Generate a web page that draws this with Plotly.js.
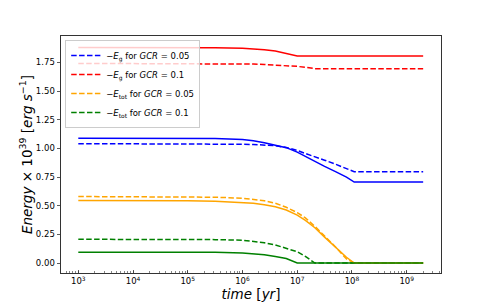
<!DOCTYPE html>
<html>
<head>
<meta charset="utf-8">
<script src="https://cdn.plot.ly/plotly-3.0.1.min.js"></script>
<style>html,body{margin:0;padding:0;background:#fff;}#chart{width:491px;height:307px;}</style>
</head>
<body>
<div id="chart"></div>
<script>
// time grid [yr]
const time = [1e3, 1e4, 1e5, 3.16e5, 1e6, 1.58e6, 2.51e6, 3.98e6, 6.31e6, 1e7, 1.41e7, 2.1e7, 3.16e7, 5.01e7, 7.94e7, 1.1e8, 3.16e8, 1e9, 2e9];

// energies (x 10^39 erg/s)
const egBlueSolid  = [1.088, 1.088, 1.087, 1.085, 1.078, 1.067, 1.049, 1.030, 1.006, 0.967, 0.928, 0.882, 0.843, 0.797, 0.749, 0.706, 0.706, 0.706, 0.706];
const egBlueDash   = [1.041, 1.041, 1.040, 1.039, 1.036, 1.034, 1.030, 1.023, 1.008, 0.982, 0.955, 0.929, 0.897, 0.862, 0.824, 0.796, 0.796, 0.796, 0.796];
const egRedSolid   = [1.880, 1.880, 1.879, 1.877, 1.873, 1.868, 1.860, 1.849, 1.829, 1.805, 1.805, 1.805, 1.805, 1.805, 1.805, 1.805, 1.805, 1.805, 1.805];
const egRedDash    = [1.741, 1.741, 1.740, 1.739, 1.737, 1.735, 1.731, 1.727, 1.722, 1.715, 1.707, 1.695, 1.695, 1.695, 1.695, 1.695, 1.695, 1.695, 1.695];
const etotOrSolid  = [0.545, 0.545, 0.543, 0.538, 0.530, 0.522, 0.508, 0.490, 0.462, 0.418, 0.372, 0.308, 0.226, 0.137, 0.050, 0.000, 0.000, 0.000, 0.000];
const etotOrDash   = [0.580, 0.580, 0.578, 0.574, 0.565, 0.557, 0.543, 0.522, 0.486, 0.440, 0.394, 0.320, 0.237, 0.140, 0.035, 0.000, 0.000, 0.000, 0.000];
const etotGrSolid  = [0.095, 0.095, 0.094, 0.093, 0.088, 0.081, 0.072, 0.057, 0.040, 0.000, 0.000, 0.000, 0.000, 0.000, 0.000, 0.000, 0.000, 0.000, 0.000];
const etotGrDash   = [0.207, 0.207, 0.206, 0.204, 0.199, 0.190, 0.177, 0.158, 0.130, 0.098, 0.057, 0.000, 0.000, 0.000, 0.000, 0.000, 0.000, 0.000, 0.000];

const legendNames = [
  "\u2212<i>E</i><sub>g</sub> for <i>GCR</i> = 0.05",
  "\u2212<i>E</i><sub>g</sub> for <i>GCR</i> = 0.1",
  "\u2212<i>E</i><sub>tot</sub> for <i>GCR</i> = 0.05",
  "\u2212<i>E</i><sub>tot</sub> for <i>GCR</i> = 0.1"
];

const xTickVals = [1e3, 1e4, 1e5, 1e6, 1e7, 1e8, 1e9];
const xTickText = ["10<sup>3</sup>", "10<sup>4</sup>", "10<sup>5</sup>", "10<sup>6</sup>", "10<sup>7</sup>", "10<sup>8</sup>", "10<sup>9</sup>"];
const yTickVals = [0, 0.25, 0.5, 0.75, 1.0, 1.25, 1.5, 1.75];

const DASH = "5.5px,2.4px";
function tr(y, color, dashed, name) {
  return {
    x: time, y: y, mode: "lines", type: "scatter",
    line: {color: color, width: 1.5, dash: dashed ? DASH : "solid"},
    name: name || "", showlegend: !!name, hoverinfo: "skip"
  };
}

const data = [
  tr(egBlueDash, "blue", true, legendNames[0]),
  tr(egRedDash, "red", true, legendNames[1]),
  tr(etotOrDash, "orange", true, legendNames[2]),
  tr(etotGrDash, "green", true, legendNames[3]),
  tr(egBlueSolid, "blue", false),
  tr(egRedSolid, "red", false),
  tr(etotOrSolid, "orange", false),
  tr(etotGrSolid, "green", false)
];

const layout = {
  width: 491, height: 307,
  margin: {l: 61, r: 50, t: 36, b: 34, pad: 0},
  paper_bgcolor: "#fff", plot_bgcolor: "#fff",
  font: {family: "DejaVu Sans", size: 8.5, color: "#000"},
  showlegend: true,
  legend: {
    x: 0.011, y: 0.983, xanchor: "left", yanchor: "top",
    bgcolor: "rgba(255,255,255,0.8)", bordercolor: "#cccccc", borderwidth: 1,
    font: {family: "DejaVu Sans", size: 8.5, color: "#000"},
    itemwidth: 30, tracegroupgap: 0
  },
  xaxis: {
    type: "log", range: [2.684, 9.627],
    tickmode: "array", tickvals: xTickVals, ticktext: xTickText,
    ticks: "inside", ticklen: 3.5, tickwidth: 0.8, tickcolor: "#333",
    minor: {ticks: "inside", ticklen: 2, tickwidth: 0.6, tickcolor: "#333", dtick: "D1", showgrid: false},
    showline: true, linecolor: "#333", linewidth: 1, mirror: true,
    showgrid: false, zeroline: false,
    tickfont: {family: "DejaVu Sans", size: 8.5, color: "#000"},
    title: {text: "<i>time</i> [<i>yr</i>]", font: {family: "DejaVu Sans", size: 13.5, color: "#000"}, standoff: 4}
  },
  yaxis: {
    range: [-0.087, 1.98],
    tickmode: "array", tickvals: yTickVals, tickformat: ".2f",
    ticks: "outside", ticklen: 3.5, tickwidth: 0.8, tickcolor: "#333",
    showline: true, linecolor: "#333", linewidth: 1, mirror: true,
    showgrid: false, zeroline: false,
    tickfont: {family: "DejaVu Sans", size: 8.5, color: "#000"},
    title: {text: "<i>Energy</i> \u00d7 10<sup>39</sup> [<i>erg</i> <i>s</i><sup>\u22121</sup>]", font: {family: "DejaVu Sans", size: 13.5, color: "#000"}, standoff: 0}
  }
};

Plotly.newPlot("chart", data, layout, {staticPlot: true, displayModeBar: false});
</script>
</body>
</html>
